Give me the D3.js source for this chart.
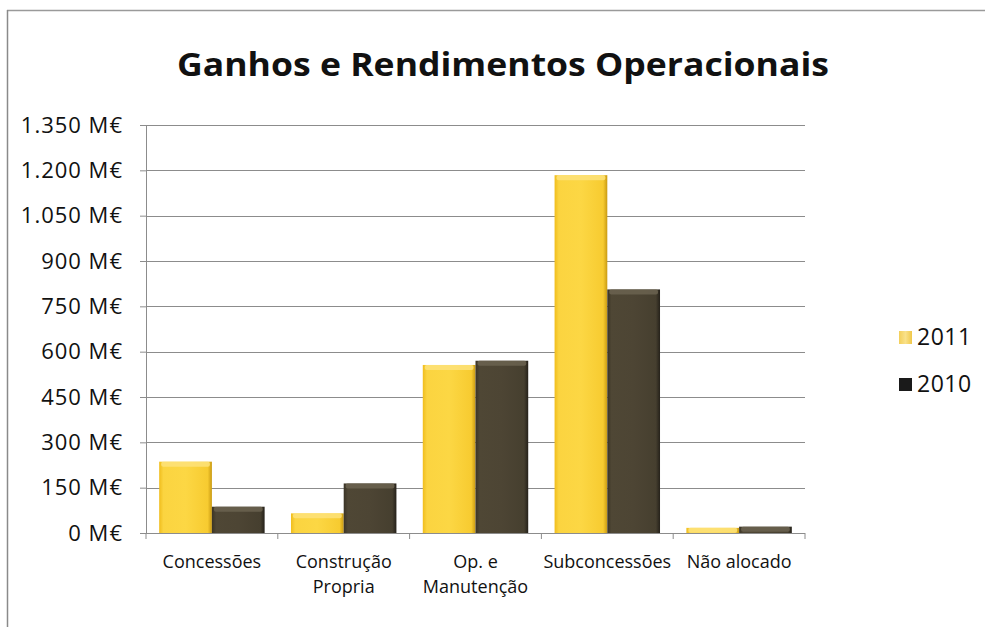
<!DOCTYPE html>
<html>
<head>
<meta charset="utf-8">
<script src="https://cdn.jsdelivr.net/npm/d3@7"></script>
<style>
  html, body { margin: 0; padding: 0; background: #fff; }
  svg { display: block; }
  text { font-family: "Open Sans", "Noto Sans", sans-serif; fill: #111; }
</style>
</head>
<body>
<svg id="chart" width="985" height="627"></svg>
<script>
// Operating gains and income by segment (million euros)
const categories = [["Concessões"], ["Construção", "Propria"], ["Op. e", "Manutenção"], ["Subconcessões"], ["Não alocado"]];
const series = ["2011", "2010"];
const values2011 = [236, 65, 556, 1184, 17];
const values2010 = [87, 164, 570, 806, 21];
const tickValues = [0, 150, 300, 450, 600, 750, 900, 1050, 1200, 1350];

const svg = d3.select("#chart");
const margin = { left: 146, right: 180, top: 125, bottom: 94 };
const W = 985, H = 627;

// Frame lines
svg.append("line").attr("x1", 7).attr("x2", 985).attr("y1", 10.5).attr("y2", 10.5)
  .attr("stroke", "#9a9a9a").attr("stroke-width", 1.5);
svg.append("line").attr("x1", 7.5).attr("x2", 7.5).attr("y1", 10).attr("y2", 627)
  .attr("stroke", "#8a8a8a").attr("stroke-width", 1.5);

// Title
svg.append("text").attr("x", 503).attr("y", 76).attr("text-anchor", "middle")
  .attr("font-size", 33).attr("font-weight", 700)
  .attr("textLength", 652).attr("lengthAdjust", "spacingAndGlyphs")
  .text("Ganhos e Rendimentos Operacionais");

const x = d3.scaleBand().domain(d3.range(categories.length))
  .range([margin.left, W - margin.right]).paddingInner(0.2).paddingOuter(0.1);
const x0 = d3.scaleBand().domain(d3.range(categories.length))
  .range([margin.left, W - margin.right]).padding(0);
const xs = d3.scaleBand().domain(series).range([0, x.bandwidth()]);
const y = d3.scaleLinear().domain([0, 1350]).range([H - margin.bottom, margin.top]);

// Gradients for the bevelled bars
const defs = svg.append("defs");
function grad(id, stops) {
  const g = defs.append("linearGradient").attr("id", id).attr("x1", 0).attr("x2", 1).attr("y1", 0).attr("y2", 0);
  stops.forEach(([o, c]) => g.append("stop").attr("offset", o).attr("stop-color", c));
}
grad("g2011", [[0, "#f0bd1c"], [0.08, "#fbd440"], [0.5, "#fcd744"], [0.92, "#f7cb30"], [1, "#c99a12"]]);
grad("g2010", [[0, "#3a3426"], [0.08, "#4f4735"], [0.5, "#4d4534"], [0.92, "#463f2f"], [1, "#25211a"]]);
grad("leg2011", [[0, "#f3cf5a"], [0.5, "#f9e18a"], [1, "#f0c84a"]]);

// Gridlines
const grid = svg.append("g");
grid.selectAll("line").data(tickValues.slice(1)).join("line")
  .attr("x1", margin.left).attr("x2", W - margin.right)
  .attr("y1", d => Math.round(y(d)) + 0.5).attr("y2", d => Math.round(y(d)) + 0.5)
  .attr("stroke", "#8c8c8c").attr("stroke-width", 1);

// Y axis
const yAxis = svg.append("g").attr("transform", `translate(${margin.left},0)`)
  .call(d3.axisLeft(y).tickValues(tickValues).tickSize(6).tickPadding(17)
    .tickFormat(d => d3.format(",")(d).replace(/,/g, ".") + " M€"));
yAxis.select(".domain").attr("stroke", "#8c8c8c");
yAxis.selectAll(".tick line").attr("stroke", "#8c8c8c");
yAxis.selectAll("text").attr("font-size", 22).attr("fill", "#111")
  .attr("letter-spacing", 1)
  .style("font-family", "'Open Sans', sans-serif");

// Bars
const rows = series.map(s => ({ s, vals: s === "2011" ? values2011 : values2010 }));
rows.forEach(({ s, vals }) => {
  const g = svg.append("g");
  const bars = g.selectAll("g").data(vals).join("g")
    .attr("transform", (d, i) => `translate(${x(i) + xs(s)},0)`);
  bars.append("rect")
    .attr("x", 0).attr("width", xs.bandwidth())
    .attr("y", d => y(d)).attr("height", d => y(0) - y(d))
    .attr("fill", `url(#g${s})`);
  // bevel highlight along the top edge
  bars.append("rect")
    .attr("x", 2).attr("width", xs.bandwidth() - 4)
    .attr("y", d => y(d)).attr("height", d => Math.min(5, y(0) - y(d)))
    .attr("rx", 2)
    .attr("fill", s === "2011" ? "#fde27a" : "#6b6350").attr("opacity", 0.85);
});

// X axis
const xAxisG = svg.append("g").attr("transform", `translate(0,${y(0)})`);
xAxisG.append("line").attr("x1", margin.left).attr("x2", W - margin.right)
  .attr("y1", 0.5).attr("y2", 0.5).attr("stroke", "#8c8c8c");
xAxisG.selectAll(".xt").data(d3.range(categories.length + 1)).join("line")
  .attr("class", "xt")
  .attr("x1", i => i < categories.length ? x0(i) : x0(categories.length - 1) + x0.bandwidth())
  .attr("x2", i => i < categories.length ? x0(i) : x0(categories.length - 1) + x0.bandwidth())
  .attr("y1", 0).attr("y2", 6).attr("stroke", "#8c8c8c");
const lbl = xAxisG.selectAll(".xl").data(categories).join("text")
  .attr("class", "xl")
  .attr("x", (d, i) => x(i) + x.bandwidth() / 2)
  .attr("text-anchor", "middle").attr("font-size", 18);
lbl.each(function (lines) {
  d3.select(this).selectAll("tspan").data(lines).join("tspan")
    .attr("x", d3.select(this).attr("x"))
    .attr("y", (d, j) => 35 + j * 25)
    .text(d => d);
});

// Legend
const legend = svg.append("g").attr("transform", "translate(899,0)");
const ly = d3.scalePoint().domain(series).range([337, 384]);
legend.selectAll("rect").data(series).join("rect")
  .attr("x", 0).attr("y", d => ly(d) - 6).attr("width", 13).attr("height", 13)
  .attr("fill", d => d === "2011" ? "url(#leg2011)" : "#1a1a1a");
legend.selectAll("text").data(series).join("text")
  .attr("x", 18).attr("y", d => ly(d) + 8).attr("font-size", 23)
  .attr("letter-spacing", 0.5)
  .text(d => d);
</script>
</body>
</html>
